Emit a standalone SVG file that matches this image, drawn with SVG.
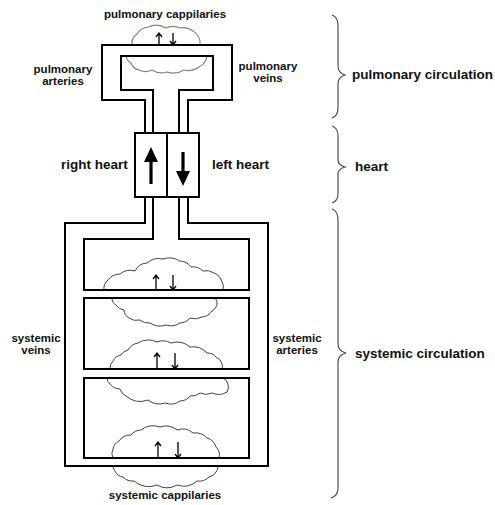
<svg xmlns="http://www.w3.org/2000/svg" width="495" height="505" viewBox="0 0 495 505">
<style>
.frame{fill:none;stroke:#000;stroke-width:2;stroke-linejoin:miter}
.box{fill:none;stroke:#000;stroke-width:2}
.cloudp{fill:none;stroke:#808080;stroke-width:1.2}
.clouds{fill:none;stroke:#444;stroke-width:1}
.band{fill:#fff;stroke:none}
.sa{fill:none;stroke:#000;stroke-width:1.3}
.ha{fill:#000;stroke:none}
.lbl{font-family:"Liberation Sans",Arial,sans-serif;font-weight:bold;font-size:11.5px;fill:#111;text-anchor:middle}
.big{font-family:"Liberation Sans",Arial,sans-serif;font-weight:bold;font-size:13.5px;fill:#111}
.brace{fill:none;stroke:#444;stroke-width:1.1}
</style>
<rect width="495" height="505" fill="#fff"/>

<g id="clouds">
<path class="cloudp" d="M132,50 L132,45 A12,12 0 0 1 137,34 A15,15 0 0 1 148,27 A20,20 0 0 1 166,28 A16,16 0 0 1 180,28 A15,15 0 0 1 193,31 A14,14 0 0 1 200,45 L200,50 L207,50 L207,56 A14,14 0 0 1 199,67 A18,18 0 0 1 184,70 A20,20 0 0 1 167,72 A18,18 0 0 1 152,70 A15,15 0 0 1 139,70 A11,11 0 0 1 131,63 A10,10 0 0 1 126,56 L126,50 Z"/>
<path class="clouds" d="M104,290 A11,11 0 0 1 108,280 A15,15 0 0 1 120,274 A16,16 0 0 1 135,271 A14,14 0 0 1 147,263 A18,18 0 0 1 163,259 A20,20 0 0 1 180,261 A14,14 0 0 1 191,267 A14,14 0 0 1 203,271 A13,13 0 0 1 214,273 A13,13 0 0 1 222,282 A10,10 0 0 1 223,290 L223,294 L215,294 L215,298 A8,8 0 0 1 217,305 A10,10 0 0 1 212,311 A13,13 0 0 1 202,317 A15,15 0 0 1 190,318 A13,13 0 0 1 180,323 A16,16 0 0 1 166,325 A18,18 0 0 1 150,323 A13,13 0 0 1 140,320 A13,13 0 0 1 129,318 A10,10 0 0 1 124,310 A11,11 0 0 1 116,305 A8,8 0 0 1 112,298 L112,294 L104,294 Z"/>
<path class="clouds" d="M110,369 A10,10 0 0 1 113,361 A11,11 0 0 1 121,355 A10,10 0 0 1 128,350 A14,14 0 0 1 138,343 A20,20 0 0 1 157,342 A16,16 0 0 1 171,343 A20,20 0 0 1 190,347 A19,19 0 0 1 207,353 A11,11 0 0 1 216,357 A10,10 0 0 1 222,364 A7,7 0 0 1 222,369 L222,374 L223,374 L223,378 A8,8 0 0 1 228,384 A10,10 0 0 1 227,392 A16,16 0 0 1 212,393 A14,14 0 0 1 200,393 A13,13 0 0 1 190,396 A13,13 0 0 1 180,401 A16,16 0 0 1 165,403 A18,18 0 0 1 148,400 A22,22 0 0 1 126,396 A11,11 0 0 1 120,389 A13,13 0 0 1 110,384 A8,8 0 0 1 107,378 L107,374 L110,374 Z"/>
<path class="clouds" d="M113,458 A10,10 0 0 1 113,449 A11,11 0 0 1 119,441 A14,14 0 0 1 131,435 A13,13 0 0 1 141,430 A20,20 0 0 1 160,427 A18,18 0 0 1 177,430 A16,16 0 0 1 193,433 A16,16 0 0 1 207,438 A13,13 0 0 1 216,447 A11,11 0 0 1 219,458 L219,462 L218,462 L218,466 A8,8 0 0 1 216,472 A10,10 0 0 1 209,477 A14,14 0 0 1 197,481 A20,20 0 0 1 177,485 A19,19 0 0 1 157,485 A22,22 0 0 1 134,481 A13,13 0 0 1 123,477 A10,10 0 0 1 115,471 A7,7 0 0 1 113,466 L113,462 Z"/>
<rect class="band" x="110" y="46" width="110" height="9"/>
<rect class="band" x="95" y="291" width="145" height="6"/>
<rect class="band" x="95" y="370" width="145" height="7"/>
<rect class="band" x="95" y="459" width="145" height="6"/>
</g>

<g id="connectors">
<path id="pulmonary-outer" class="frame" d="M145,133 V100 H102 V45 H232 V100 H188 V133"/>
<path id="pulmonary-inner" class="frame" d="M153,133 V90 H121 V56 H213 V90 H179 V133"/>
<path id="systemic-outer" class="frame" d="M145,197 V223 H65 V466 H268 V223 H188 V197"/>
<path id="systemic-inner" class="frame" d="M153,197 V239 H84 V290 H249 V239 H179 V197"/>
</g>

<g id="capillary-bed-2"><rect class="box" x="84" y="298" width="165" height="71"/></g>
<g id="capillary-bed-3"><rect class="box" x="84" y="378" width="165" height="80"/></g>

<g id="right-heart">
<rect class="box" x="135" y="133" width="32" height="64"/>
<path class="ha" d="M151,147 L158,162 L152.6,162 L152.6,184 L149.4,184 L149.4,162 L144,162 Z"/>
</g>
<g id="left-heart">
<rect class="box" x="167" y="133" width="32" height="64"/>
<path class="ha" d="M183,186 L190,171 L184.6,171 L184.6,152 L181.4,152 L181.4,171 L176,171 Z"/>
</g>

<g id="exchange-arrows">
<path class="sa" d="M159,45 V33 M156,37 L159,33 L162,37 M173,33 V45 M170,41 L173,45 L176,41"/>
<path class="sa" d="M156,290 V275 M153,279 L156,275 L159,279 M173,275 V290 M170,286 L173,290 L176,286"/>
<path class="sa" d="M157,369 V353 M154,357 L157,353 L160,357 M175,353 V369 M172,365 L175,369 L178,365"/>
<path class="sa" d="M158,458 V442 M155,446 L158,442 L161,446 M178,442 V458 M175,454 L178,458 L181,454"/>
</g>

<g id="labels">
<text class="lbl" x="165" y="18">pulmonary cappilaries</text>
<text class="lbl" x="63" y="73">pulmonary</text>
<text class="lbl" x="63" y="85">arteries</text>
<text class="lbl" x="268" y="70">pulmonary</text>
<text class="lbl" x="268" y="82">veins</text>
<text class="big" x="61" y="169">right heart</text>
<text class="big" x="212" y="169">left heart</text>
<text class="lbl" x="36" y="342">systemic</text>
<text class="lbl" x="36" y="354">veins</text>
<text class="lbl" x="297" y="342">systemic</text>
<text class="lbl" x="297" y="354">arteries</text>
<text class="lbl" x="165" y="499">systemic cappilaries</text>
</g>

<g id="braces">
<path class="brace" d="M332,15 Q338,17 338,26 V66 Q338,73 345,75 Q338,77 338,84 V108 Q338,116 332,118"/>
<path class="brace" d="M332,126 Q338,128 338,136 V160 Q338,165 345,167 Q338,169 338,174 V194 Q338,201 332,203"/>
<path class="brace" d="M332,209 Q338,211 338,220 V344 Q338,351 346,353 Q338,355 338,362 V488 Q338,496 331,498"/>
<text class="big" x="352" y="79">pulmonary circulation</text>
<text class="big" x="355" y="171">heart</text>
<text class="big" x="355" y="358">systemic circulation</text>
</g>
</svg>
